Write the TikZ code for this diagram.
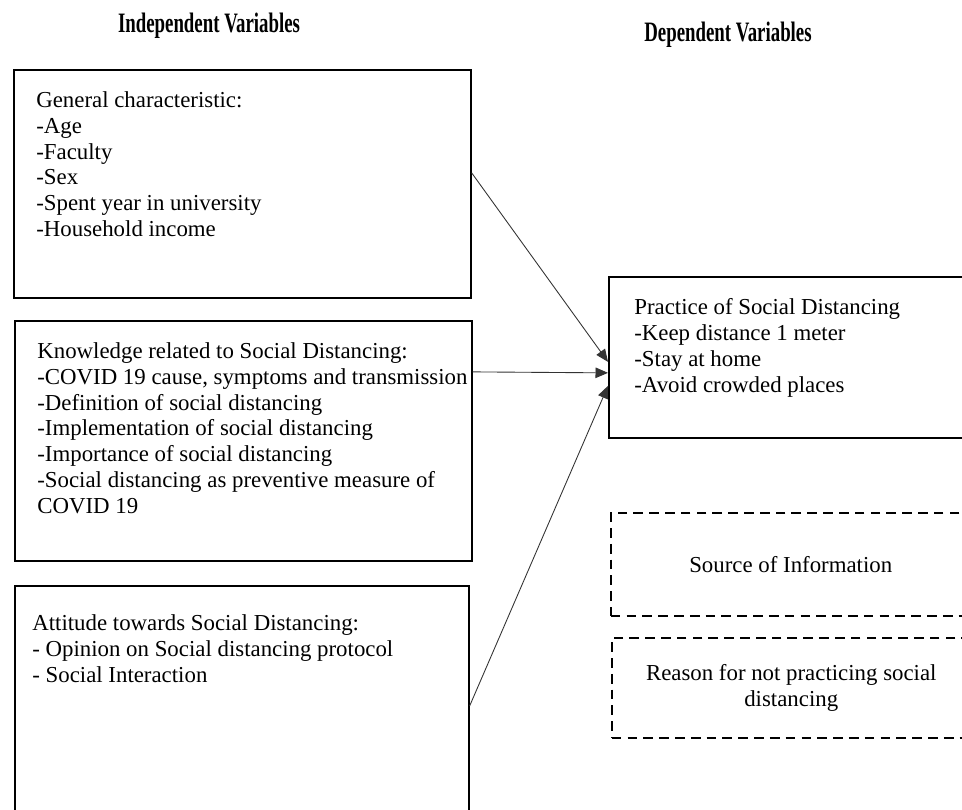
\documentclass[tikz,border=0pt]{standalone}
\usepackage{fontspec}
\setmainfont{Liberation Serif}
\newfontfamily\headfont{Liberation Serif}[FakeStretch=0.67]
\usepackage{tikz}
\usetikzlibrary{positioning}
\usetikzlibrary{arrows.meta}

\begin{document}
\begin{tikzpicture}[x=0.02cm, y=-0.02cm,
    box/.style={draw, line width=1pt, anchor=north west, inner sep=0pt},
    dbox/.style={draw, line width=0.9pt, dash pattern=on 5.5pt off 3.5pt, anchor=north west,
      align=center, inner sep=0pt, font=\fontsize{13}{14.75}\selectfont},
    txt/.style={align=left, inner sep=0pt, font=\fontsize{13}{14.75}\selectfont},
    head/.style={font=\fontsize{16}{18}\headfont\bfseries},
    arr/.style={-{Triangle[length=0.25cm,width=0.21cm]}, line width=0.5pt, black!80}]

    \clip (0,0) rectangle (962,809);

    % Define nodes
    \node[head] (indep) at (209,26) {Independent Variables};
    \node[head] (dep)   at (728,35) {Dependent Variables};

    \node[box, minimum width=9.14cm, minimum height=4.56cm] (gen)  at (13,69)  {};
    \node[box, minimum width=9.14cm, minimum height=4.8cm]  (know) at (14,320) {};
    \node[box, minimum width=9.08cm, minimum height=5cm]    (att)  at (14,585) {};
    \node[box, minimum width=7.24cm, minimum height=3.22cm] (prac) at (608,276) {};

    \node[txt, below right=0.44cm and 0.46cm of gen.north west] (gentxt)
      {General characteristic:\\-Age\\-Faculty\\-Sex\\-Spent year in university\\-Household income};
    \node[txt, below right=0.44cm and 0.46cm of know.north west] (knowtxt)
      {Knowledge related to Social Distancing:\\-COVID 19 cause, symptoms and transmission\\
       -Definition of social distancing\\-Implementation of social distancing\\
       -Importance of social distancing\\-Social distancing as preventive measure of\\COVID 19};
    \node[txt, below right=0.58cm and 0.36cm of att.north west] (atttxt)
      {Attitude towards Social Distancing:\\- Opinion on Social distancing protocol\\- Social Interaction};
    \node[txt, below right=0.44cm and 0.52cm of prac.north west] (practxt)
      {Practice of Social Distancing\\-Keep distance 1 meter\\-Stay at home\\-Avoid crowded places};

    \node[dbox, minimum width=7.2cm, minimum height=2.06cm] (src) at (610,512) {Source of Information};
    \node[dbox, minimum width=7.18cm, minimum height=2cm]   (why) at (611,637)
      {Reason for not practicing social\\distancing};

    % Connect the nodes
    \draw[arr] ([yshift=0.22cm]gen.east)  -- ([yshift=-0.09cm]prac.west);
    \draw[arr] ([yshift=1.38cm]know.east) -- ([yshift=-0.31cm]prac.west);
    \draw[arr] ([yshift=0.1cm]att.east)   -- ([yshift=-0.57cm]prac.west);
\end{tikzpicture}
\end{document}
